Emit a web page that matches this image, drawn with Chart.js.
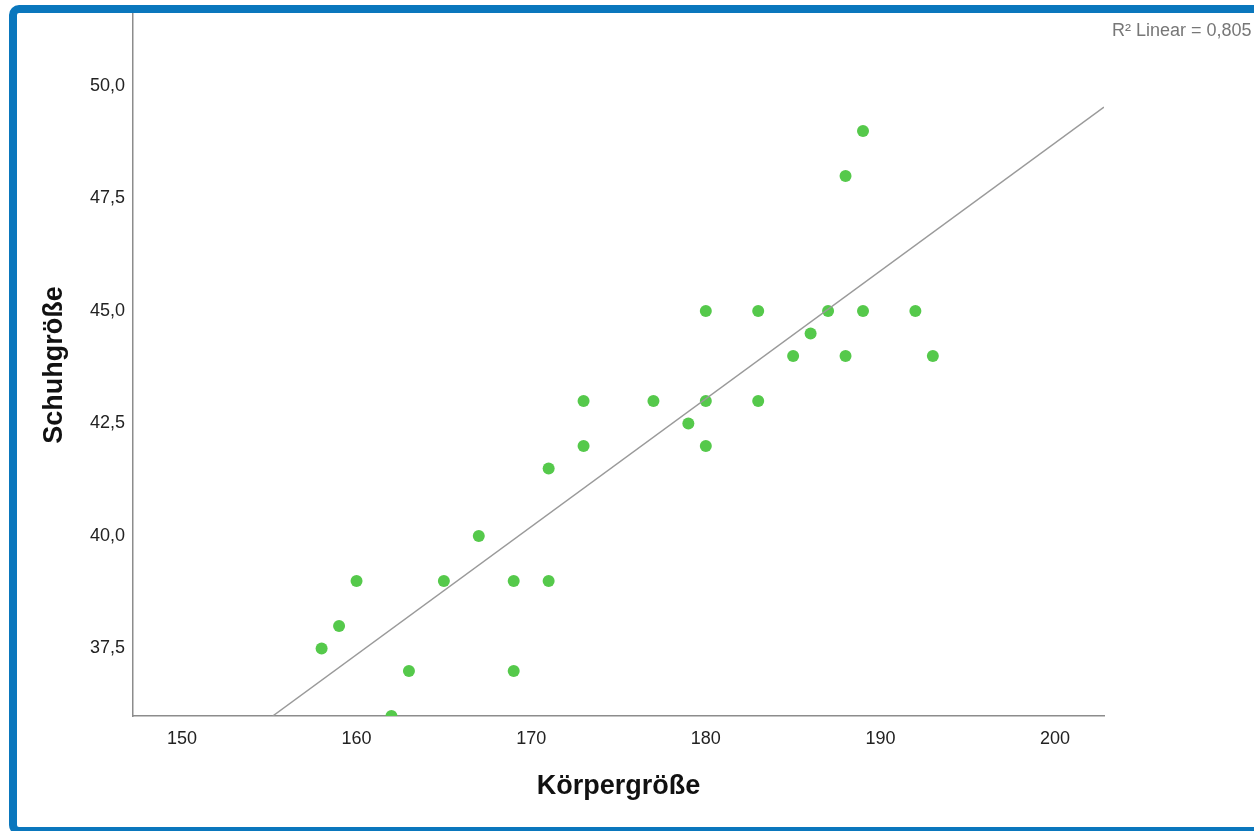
<!DOCTYPE html>
<html>
<head>
<meta charset="utf-8">
<script src="https://cdn.jsdelivr.net/npm/chart.js@4.4.1/dist/chart.umd.min.js"></script>
<style>
html,body{margin:0;padding:0;background:#fff;}
#wrap{position:relative;width:1254px;height:831px;overflow:hidden;}
#c{position:absolute;left:0;top:0;}
</style>
</head>
<body>
<div id="wrap"><canvas id="c" width="1254" height="831"></canvas></div>
<script>
// Data
const koerpergroesse = [158,159,160,162,163,165,167,169,169,171,171,173,173,177,179,180,180,180,183,183,185,186,187,188,188,189,189,192,193];
const schuhgroesse   = [37.5,38,39,36,37,39,40,39,37,41.5,39,43,42,43,42.5,45,43,42,45,43,44,44.5,45,48,44,49,45,45,44];
const fitLineX = [155.2, 202.8];
const fitLineY = [36.0, 49.53];
const xTicks = [150,160,170,180,190,200];
const yTicks = [37.5,40.0,42.5,45.0,47.5,50.0];
const xTitle = 'Körpergröße';
const yTitle = 'Schuhgröße';
const r2Label = 'R² Linear = 0,805';

const FONT = '"Liberation Sans", Arial, sans-serif';

const framePlugin = {
  id: 'frame',
  afterDraw(chart) {
    const ctx = chart.ctx;
    ctx.save();
    ctx.strokeStyle = '#0a77bd';
    ctx.lineWidth = 8;
    ctx.beginPath();
    if (ctx.roundRect) ctx.roundRect(13, 9, 1274, 822, 6); else ctx.rect(13, 9, 1274, 822);
    ctx.stroke();
    ctx.fillStyle = '#777777';
    ctx.font = '18px ' + FONT;
    ctx.textAlign = 'left';
    ctx.textBaseline = 'middle';
    ctx.fillText(r2Label, 1112, 31);
    ctx.restore();
  }
};

const pts = koerpergroesse.map((x, i) => ({x: x, y: schuhgroesse[i]}));
const linePts = fitLineX.map((x, i) => ({x: x, y: fitLineY[i]}));

new Chart(document.getElementById('c'), {
  type: 'scatter',
  data: {
    datasets: [
      {
        label: 'Punkte',
        data: pts,
        backgroundColor: '#55c94b',
        borderColor: '#55c94b',
        borderWidth: 0,
        pointRadius: 6,
        pointHoverRadius: 6,
        clip: 0,
        order: 2
      },
      {
        label: 'Linear',
        type: 'line',
        data: linePts,
        borderColor: '#9a9a9a',
        borderWidth: 1.5,
        pointRadius: 0,
        showLine: true,
        fill: false,
        clip: 0,
        order: 1
      }
    ]
  },
  options: {
    responsive: false,
    animation: false,
    devicePixelRatio: 1,
    layout: { padding: { top: 14, right: 150, left: 0, bottom: 0 } },
    plugins: { legend: { display: false }, tooltip: { enabled: false } },
    scales: {
      x: {
        type: 'linear',
        min: 147.2,
        max: 202.8,
        afterBuildTicks(scale) { scale.ticks = xTicks.map(v => ({value: v})); },
        afterFit(scale) { scale.height = 115; scale.paddingLeft = 0; scale.paddingRight = 0; },
        grid: { display: false, drawTicks: false },
        border: { display: true, color: '#8c8c8c', width: 1.5 },
        ticks: {
          color: '#222',
          font: { family: FONT, size: 18 },
          padding: 12,
          callback: v => String(v)
        },
        title: {
          display: true,
          text: xTitle,
          color: '#111',
          font: { family: FONT, size: 27, weight: 'bold' },
          padding: { top: 0, bottom: 28 }
        }
      },
      y: {
        type: 'linear',
        min: 36.0,
        max: 51.6,
        afterBuildTicks(scale) { scale.ticks = yTicks.map(v => ({value: v})); },
        afterFit(scale) { scale.width = 133; scale.paddingTop = 0; scale.paddingBottom = 0; },
        grid: { display: false, drawTicks: false },
        border: { display: true, color: '#8c8c8c', width: 1.5 },
        ticks: {
          color: '#222',
          font: { family: FONT, size: 18 },
          padding: 8,
          callback: v => v.toFixed(1).replace('.', ',')
        },
        title: {
          display: true,
          text: yTitle,
          color: '#111',
          font: { family: FONT, size: 27, weight: 'bold' },
          padding: { top: 38, bottom: 0 }
        }
      }
    }
  },
  plugins: [framePlugin]
});
</script>
</body>
</html>
